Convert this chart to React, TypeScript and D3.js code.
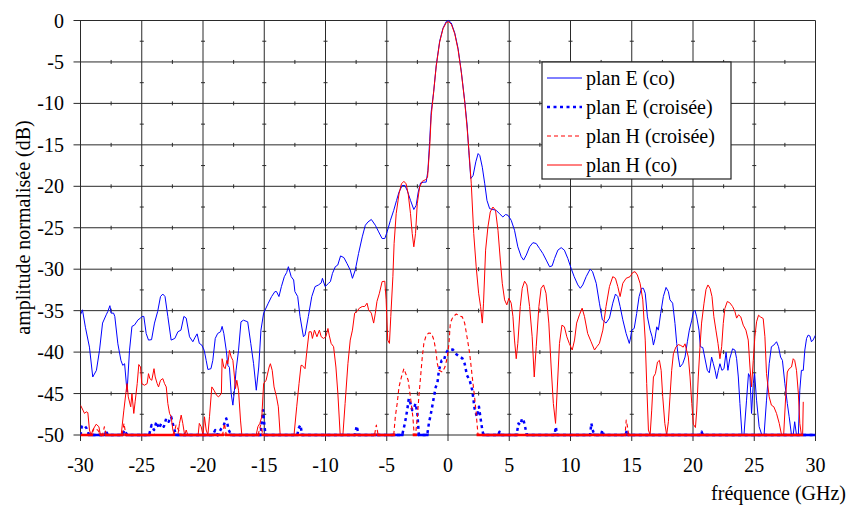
import React, { useEffect, useRef } from "react";
import * as d3 from "d3";

type P = [number, number];

// x: fréquence (GHz), y: amplitude normalisée (dB)
const xTicks = [-30, -25, -20, -15, -10, -5, 0, 5, 10, 15, 20, 25, 30];
const yTicks = [0, -5, -10, -15, -20, -25, -30, -35, -40, -45, -50];
const xMinor = [-27.5, -22.5, -17.5, -12.5, -7.5, -2.5, 2.5, 7.5, 12.5, 17.5, 22.5, 27.5];
const yMinor = [-2.5, -7.5, -12.5, -17.5, -22.5, -27.5, -32.5, -37.5, -42.5, -47.5];

const seriesNames = ["plan E (co)", "plan E (croisée)", "plan H (croisée)", "plan H (co)"];

const planECo: P[] = [
  [-30, -35.5], [-29.84, -34.9], [-29.6, -37], [-29.27, -39.4], [-29.0, -43], [-28.7, -42.2], [-28.45, -39.8],
  [-28.2, -36.5], [-27.9, -35.5], [-27.77, -35.1], [-27.6, -34.4], [-27.5, -35.3], [-27.3, -35.3], [-27.2, -35.7],
  [-26.95, -39], [-26.7, -41], [-26.55, -41.6], [-26.4, -41.4], [-26.2, -44.8], [-26.0, -39.8], [-25.8, -36.9],
  [-25.6, -36.75], [-25.3, -36.1], [-25.1, -35.9], [-24.97, -35.7], [-24.83, -35.7], [-24.64, -37.75], [-24.45, -38.55],
  [-24.2, -38.5], [-23.96, -36.5], [-23.7, -35.1], [-23.47, -33.3], [-23.28, -33], [-23.1, -33.3], [-22.87, -35.7],
  [-22.6, -38.55], [-22.3, -38.35], [-22.05, -37.55], [-21.8, -37.35], [-21.56, -35.7], [-21.37, -35.9], [-21.1, -38.15],
  [-20.83, -38.75], [-20.64, -38.2], [-20.48, -37.8], [-20.3, -38.95], [-20.1, -39.15], [-19.9, -39.8], [-19.74, -41],
  [-19.6, -42.1], [-19.35, -42], [-19.2, -41], [-19.0, -38.35], [-18.8, -37.75], [-18.57, -37.55], [-18.44, -36.9],
  [-18.3, -37.75], [-18.1, -39.8], [-17.97, -41.6], [-17.84, -41.85], [-17.7, -45], [-17.56, -46.4], [-17.43, -44.6],
  [-17.3, -42.2], [-17.1, -39.8], [-16.9, -36.35], [-16.7, -36.15], [-16.35, -36.35], [-16.1, -38.95], [-15.87, -41.4],
  [-15.65, -44.6], [-15.45, -41.8], [-15.27, -37.35], [-15.05, -35.3], [-14.67, -34.1], [-14.4, -33.3], [-14.13, -32.7],
  [-14.0, -32.7], [-13.8, -33.3], [-13.6, -32.1], [-13.36, -30.9], [-13.17, -30.4], [-13.03, -29.7], [-12.8, -30.9],
  [-12.6, -31.3], [-12.5, -32.7], [-12.27, -33.3], [-12.08, -35.7], [-11.8, -38.15], [-11.67, -37.95], [-11.4, -35.7],
  [-11.12, -33.3], [-10.85, -32.1], [-10.57, -31.9], [-10.35, -31.65], [-10.25, -31.1], [-10.03, -32.1], [-9.75, -31.7],
  [-9.6, -31.5], [-9.43, -30.5], [-9.2, -29.7], [-9.0, -29.5], [-8.77, -28.4], [-8.5, -28.6], [-8.25, -29.3],
  [-7.98, -30.1], [-7.8, -31.1], [-7.57, -30.1], [-7.3, -28.1], [-7.0, -26.1], [-6.75, -24.7], [-6.53, -24.3],
  [-6.26, -24.0], [-5.93, -24.7], [-5.66, -25.5], [-5.38, -26.3], [-5.16, -26.3], [-4.97, -25.5], [-4.7, -24.1],
  [-4.43, -22.9], [-4.2, -21.7], [-4.0, -20.7], [-3.74, -19.9], [-3.52, -19.9], [-3.33, -20.5], [-3.06, -21.7],
  [-2.79, -22.8], [-2.6, -22.3], [-2.43, -20.7], [-2.24, -19.6], [-1.97, -19.5], [-1.78, -19.5], [-1.64, -18.1],
  [-1.5, -14.6], [-1.37, -11], [-1.17, -8.6], [-0.96, -5.4], [-0.68, -2.5], [-0.41, -0.93], [-0.14, -0.12],
  [0.05, 0], [0.27, -0.3], [0.55, -1.5], [0.82, -3.35], [1.09, -6.2], [1.37, -9.8], [1.56, -12.6], [1.72, -16.25],
  [1.86, -19.07], [2.05, -18.7], [2.27, -17.05], [2.46, -16.05], [2.6, -16.3], [2.8, -17.7], [3.0, -19.7],
  [3.18, -21.7], [3.4, -22.7], [3.67, -22.8], [3.94, -22.9], [4.2, -23.3], [4.48, -23.7], [4.7, -23.4], [4.9, -23.5],
  [5.16, -24.1], [5.43, -25.3], [5.7, -27.3], [5.98, -28.5], [6.17, -28.9], [6.39, -28.3], [6.66, -27.3],
  [6.93, -26.8], [7.2, -26.9], [7.47, -27.5], [7.74, -28.1], [8.02, -28.9], [8.29, -29.7], [8.5, -29.6],
  [8.7, -28.7], [8.97, -27.7], [9.24, -27.4], [9.5, -27.7], [9.78, -28.7], [10.05, -29.9], [10.3, -30.9],
  [10.6, -31.9], [10.8, -32.3], [11.0, -31.9], [11.28, -30.9], [11.6, -30.0], [11.8, -30.3], [12.1, -31.7],
  [12.36, -34.1], [12.6, -36.1], [12.9, -36.5], [13.18, -35.9], [13.45, -34.1], [13.67, -33.0], [13.86, -33.3],
  [14.05, -34.5], [14.27, -36.1], [14.54, -37.75], [14.8, -38.95], [14.9, -38.3], [15.0, -37.35], [15.2, -37.15],
  [15.4, -35.35], [15.6, -33.3], [15.8, -32.3], [15.95, -32.3], [16.1, -32.9], [16.28, -35.75], [16.5, -37.35],
  [16.66, -38.15], [16.77, -39.15], [16.9, -38.35], [17.04, -36.95], [17.17, -37.35], [17.36, -35.35], [17.58, -33.3],
  [17.8, -32.2], [17.99, -32.7], [18.12, -33.7], [18.34, -34.1], [18.53, -36.55], [18.67, -38.95], [18.8, -40.6],
  [18.94, -41.8], [19.16, -41.4], [19.35, -40.6], [19.54, -38.75], [19.7, -37.35], [19.9, -36.15], [20.03, -35.15],
  [20.16, -34.95], [20.3, -35.75], [20.49, -37.35], [20.6, -39.35], [20.8, -39.45], [21.0, -40.95], [21.17, -42.2],
  [21.33, -42.5], [21.52, -40.6], [21.66, -41.4], [21.8, -42.2], [21.93, -43.2], [22.07, -42.2], [22.2, -41.4],
  [22.36, -42.2], [22.53, -42], [22.7, -40], [22.85, -42.2], [23.0, -40.8], [23.23, -39.6], [23.42, -39.75],
  [23.56, -40.8], [23.7, -43], [23.83, -46.2], [24.0, -50], [24.16, -50], [24.37, -45.8], [24.53, -42.6],
  [24.65, -43], [24.78, -47.4], [24.92, -43.8], [25.03, -42.6], [25.19, -45.8], [25.4, -49], [25.62, -50],
  [25.8, -50], [26.0, -45.8], [26.22, -41.4], [26.4, -39.35], [26.6, -39.15], [26.82, -38.75], [26.98, -39.35],
  [27.15, -40.6], [27.3, -41], [27.5, -43.8], [27.7, -46.2], [27.85, -47.8], [28.04, -50], [28.18, -50],
  [28.3, -48.4], [28.45, -50], [28.6, -50], [28.72, -44.6], [28.85, -42.2], [29.0, -42.2], [29.13, -39.75],
  [29.27, -38.35], [29.4, -37.95], [29.54, -38.05], [29.67, -38.75], [29.8, -38.55], [30.0, -37.95],
];

const planECroisee: P[] = [
  [-30, -50], [-29.9, -49], [-29.7, -48.8], [-29.5, -49.2], [-29.3, -50], [-28.0, -50], [-27.9, -49.4], [-27.8, -50],
  [-26.6, -50], [-26.4, -49.4], [-26.2, -50], [-24.4, -50], [-24.2, -48.8], [-24.0, -49.4], [-23.8, -48.4],
  [-23.6, -49.2], [-23.4, -48.6], [-23.2, -49], [-23.0, -48], [-22.8, -48.4], [-22.6, -47.8], [-22.4, -49],
  [-22.2, -50], [-19.2, -50], [-19.0, -49.4], [-18.8, -50], [-18.5, -49.2], [-18.3, -48.8], [-18.1, -48],
  [-17.9, -49.4], [-17.7, -50], [-15.3, -50], [-15.2, -48.4], [-15.1, -47], [-15.0, -48.6], [-14.9, -50],
  [-12.3, -50], [-12.2, -49.2], [-12.05, -48.8], [-11.9, -50], [-7.6, -50], [-7.45, -48.9], [-7.3, -50],
  [-3.74, -50], [-3.52, -48.6], [-3.33, -47], [-3.2, -45.6], [-3.06, -46.2], [-2.92, -47], [-2.79, -46.8],
  [-2.65, -46.2], [-2.5, -47.4], [-2.38, -50], [-1.7, -50], [-1.56, -48.6], [-1.34, -47], [-1.15, -45.4],
  [-1.0, -44.2], [-0.87, -43.8], [-0.74, -42.2], [-0.52, -41], [-0.33, -41], [-0.19, -40.2], [0, -39.75],
  [0.14, -39.75], [0.4, -39.7], [0.68, -40.25], [0.95, -40.55], [1.17, -40.75], [1.36, -41.4], [1.55, -42.8],
  [1.77, -43.4], [1.98, -44.6], [2.17, -46.8], [2.36, -47.8], [2.53, -46.6], [2.64, -47.8], [2.8, -49.4],
  [2.9, -50], [4.1, -50], [4.2, -49.6], [4.3, -50], [5.6, -50], [5.75, -48.6], [5.9, -48.8], [6.05, -48],
  [6.2, -48.4], [6.35, -49.4], [6.45, -50], [8.7, -50], [8.8, -49], [8.9, -50], [11.6, -50], [11.7, -48.6],
  [11.85, -49.6], [12.0, -50], [12.5, -50], [12.6, -49.4], [12.7, -50], [14.5, -50], [14.6, -49.4], [14.7, -50],
  [20.6, -50], [20.7, -49.6], [20.8, -50], [30, -50],
];

const planHCroisee: P[] = [
  [-30, -50], [-29.1, -50], [-28.9, -49.2], [-28.6, -49.4], [-28.3, -50], [-28.2, -50], [-28.05, -49], [-27.9, -50],
  [-26.6, -50], [-26.45, -48.6], [-26.3, -50], [-22.4, -50], [-22.2, -48.8], [-22.0, -49.4], [-21.8, -50],
  [-18.4, -50], [-18.25, -48.6], [-18.1, -50], [-15.5, -50], [-15.3, -48.8], [-15.1, -50], [-6.0, -50],
  [-5.85, -48.8], [-5.7, -50], [-4.43, -50], [-4.3, -47.8], [-4.15, -46.2], [-4.0, -44.2], [-3.8, -43],
  [-3.6, -42], [-3.4, -42.8], [-3.25, -43.4], [-3.14, -44.6], [-3.0, -46.2], [-2.87, -47.8], [-2.76, -50],
  [-2.65, -50], [-2.5, -47.8], [-2.38, -45.4], [-2.24, -43], [-2.1, -40.6], [-1.97, -38.95], [-1.78, -37.95],
  [-1.56, -37.7], [-1.34, -37.75], [-1.15, -38.55], [-1.0, -39.75], [-0.87, -41.4], [-0.74, -42.2],
  [-0.46, -42.4], [-0.25, -41.8], [-0.05, -40.6], [0.08, -38.95], [0.19, -36.5], [0.4, -35.75], [0.68, -35.4],
  [0.95, -35.65], [1.17, -35.75], [1.36, -36.5], [1.55, -38.15], [1.77, -40.15], [1.98, -43], [2.17, -45.4],
  [2.3, -47.4], [2.45, -50], [14.45, -50], [14.55, -48.2], [14.65, -49], [14.75, -50], [29, -50],
];

const planHCo: P[] = [
  [-30, -46.4], [-29.8, -47], [-29.67, -47.4], [-29.54, -47.2], [-29.4, -47.3], [-29.27, -49.4], [-29.13, -50],
  [-29.0, -49.4], [-28.72, -48.7], [-28.5, -49], [-28.37, -50], [-26.68, -50], [-26.46, -47], [-26.3, -45],
  [-26.2, -43.8], [-26.1, -45.4], [-25.9, -46.6], [-25.8, -45], [-25.65, -47.4], [-25.54, -46], [-25.37, -43.8],
  [-25.24, -41.5], [-25.1, -41.8], [-25.0, -43.8], [-24.78, -44], [-24.56, -43.8], [-24.45, -42.6], [-24.34, -43.2],
  [-24.18, -43.4], [-24.0, -42], [-23.9, -43], [-23.74, -43.8], [-23.63, -44.2], [-23.47, -43.4], [-23.28, -43.2],
  [-23.14, -43.8], [-23.0, -44.2], [-22.87, -46.2], [-22.73, -47.4], [-22.6, -47.8], [-22.46, -49.4], [-22.33, -50],
  [-22.05, -50], [-21.92, -48.6], [-21.78, -47.6], [-21.65, -48.6], [-21.5, -50], [-21.37, -49.4], [-21.24, -50],
  [-20.4, -50], [-20.3, -48.6], [-20.15, -49], [-20.0, -50], [-19.88, -47.8], [-19.74, -49.4], [-19.6, -50],
  [-19.47, -47.8], [-19.28, -44.2], [-19.1, -44.6], [-18.9, -45.2], [-18.73, -45.4], [-18.5, -45], [-18.44, -40.8],
  [-18.3, -41.8], [-18.19, -42], [-18.05, -41], [-17.97, -41.4], [-17.84, -39.8], [-17.7, -40.6], [-17.56, -41],
  [-17.43, -43], [-17.35, -44.4], [-17.24, -43.4], [-17.1, -44.6], [-16.94, -48.2], [-16.83, -50], [-15.66, -50],
  [-15.52, -49], [-15.36, -48.6], [-15.2, -47.8], [-15.05, -43.8], [-14.85, -43.4], [-14.6, -41.8], [-14.5, -41.4],
  [-14.35, -42.2], [-14.2, -44.2], [-14.0, -45.4], [-13.85, -46.6], [-13.7, -50], [-12.57, -50], [-12.35, -46.6],
  [-12.16, -43.8], [-12.0, -41.6], [-11.9, -41.6], [-11.67, -42], [-11.53, -40], [-11.34, -37.55], [-11.17, -37.55],
  [-11.07, -38.35], [-10.9, -37.35], [-10.7, -38.15], [-10.5, -37.35], [-10.35, -38.15], [-10.16, -38.35],
  [-9.97, -38.15], [-9.8, -37.15], [-9.7, -37.95], [-9.54, -38.95], [-9.34, -39.35], [-9.15, -41.8], [-8.99, -45],
  [-8.8, -50], [-8.58, -50], [-8.4, -46.2], [-8.17, -41.4], [-7.98, -38.55], [-7.8, -37.35], [-7.62, -35.3],
  [-7.43, -35.1], [-7.24, -34.7], [-7.0, -34.5], [-6.8, -34.5], [-6.61, -34.1], [-6.48, -34.9], [-6.26, -35.3],
  [-6.07, -36.5], [-5.93, -35.3], [-5.8, -33.9], [-5.6, -32.9], [-5.38, -31.5], [-5.16, -31.45], [-5.05, -33.7],
  [-4.92, -38.55], [-4.78, -38.95], [-4.67, -35.7], [-4.5, -30.9], [-4.4, -26.9], [-4.23, -23.3], [-4.0, -20.9],
  [-3.8, -19.7], [-3.6, -19.4], [-3.42, -19.7], [-3.25, -20.9], [-3.06, -23.3], [-2.92, -25.7], [-2.79, -27.3],
  [-2.65, -25.7], [-2.51, -22.1], [-2.32, -20.1], [-2.1, -19.4], [-1.83, -19.2], [-1.67, -18.9], [-1.5, -15.4],
  [-1.37, -11.5], [-1.17, -8.6], [-0.96, -5.5], [-0.68, -2.6], [-0.41, -1.0], [-0.14, -0.25], [0.05, -0.15],
  [0.27, -0.45], [0.55, -1.6], [0.82, -3.5], [1.09, -6.3], [1.37, -9.9], [1.56, -13.0], [1.71, -15.7],
  [1.9, -19.7], [2.1, -25.7], [2.3, -29.7], [2.5, -32.9], [2.66, -34.5], [2.8, -36.5], [2.9, -34.1], [3.07, -27.7],
  [3.26, -24.9], [3.45, -23.1], [3.67, -22.5], [3.88, -22.9], [4.08, -25.3], [4.27, -28.9], [4.43, -31.7],
  [4.62, -33.7], [4.8, -34.3], [4.97, -33.5], [5.16, -34.1], [5.3, -35.7], [5.43, -38.55], [5.57, -40.8],
  [5.7, -38.95], [5.9, -34.5], [6.06, -32.3], [6.25, -31.45], [6.44, -31.9], [6.66, -34.5], [6.87, -38.15],
  [7.04, -43], [7.2, -39.35], [7.42, -34.5], [7.6, -32.3], [7.8, -31.9], [8.0, -32.9], [8.23, -36.5],
  [8.42, -41.8], [8.6, -46.2], [8.78, -48.6], [8.9, -45], [9.1, -38.95], [9.3, -36.75], [9.5, -36.95],
  [9.7, -38.15], [9.9, -38.95], [10.14, -39.75], [10.33, -38.55], [10.5, -36.5], [10.73, -35.5], [10.95, -34.7],
  [11.14, -35.7], [11.4, -37.75], [11.68, -38.75], [11.96, -39.75], [12.15, -39.35], [12.36, -38.95],
  [12.64, -37.35], [12.9, -34.5], [13.18, -32.1], [13.45, -30.9], [13.67, -31.1], [13.86, -32.1], [14.05, -33.3],
  [14.27, -31.7], [14.54, -31.1], [14.86, -30.9], [15.08, -30.4], [15.27, -30.3], [15.46, -30.7], [15.68, -31.7],
  [15.9, -33.7], [16.1, -38.55], [16.22, -43.8], [16.36, -49.4], [16.5, -50], [16.63, -47], [16.77, -43],
  [16.93, -42.6], [17.1, -41.2], [17.26, -41], [17.4, -42.2], [17.53, -45.4], [17.7, -48.6], [17.85, -50],
  [17.99, -48.4], [18.12, -45.4], [18.26, -42.2], [18.4, -40.2], [18.6, -39.4], [18.8, -39.1], [19.0, -39.2],
  [19.2, -39.4], [19.35, -39], [19.48, -39.8], [19.62, -40.6], [19.76, -43], [19.9, -46.2], [20.03, -48.7],
  [20.2, -49.1], [20.3, -47.1], [20.43, -43], [20.57, -39.4], [20.7, -36.5], [20.9, -34.1], [21.06, -32.45],
  [21.22, -31.9], [21.39, -32.3], [21.55, -33.3], [21.7, -35.7], [21.87, -37.35], [22.04, -38.95], [22.2, -40.8],
  [22.34, -39.35], [22.47, -36.55], [22.6, -34.75], [22.8, -33.9], [23.0, -34.05], [23.23, -34.5], [23.42, -35.1],
  [23.56, -35.9], [23.72, -35.5], [23.9, -35.75], [24.1, -36.75], [24.32, -37.35], [24.51, -38.55], [24.65, -41.8],
  [24.78, -44.2], [24.92, -41], [25.05, -38.15], [25.19, -36.35], [25.35, -35.55], [25.5, -35.75], [25.73, -35.95],
  [25.87, -38.15], [26.0, -42.6], [26.22, -45.4], [26.4, -46.4], [26.6, -46.6], [26.82, -47.4], [27.04, -48.6],
  [27.23, -50], [27.4, -50], [27.58, -45], [27.7, -42.4], [27.85, -42], [28.04, -41.8], [28.18, -40.8],
  [28.3, -41], [28.45, -42.2], [28.6, -45], [28.72, -48.6], [28.85, -50], [28.95, -50], [29.0, -46],
];

const W = 849;
const H = 507;
const FONT = `"Liberation Serif", Tinos, "Times New Roman", FreeSerif`;

export default function App() {
  const svgRef = useRef<SVGSVGElement>(null);

  useEffect(() => {
    if (!svgRef.current) return;
    d3.select(svgRef.current)
      .selectAll<SVGTextElement, unknown>("text")
      .each(function () {
        this.style.setProperty("font-family", FONT, "important");
        this.style.setProperty("font-size", "20px", "important");
      });
  }, []);

  const x = d3.scaleLinear().domain([-30, 30]).range([80.5, 815.5]);
  const y = d3.scaleLinear().domain([-50, 0]).range([435, 20.5]);
  const line = d3
    .line<P>()
    .x((d) => x(d[0]))
    .y((d) => y(d[1]));

  const x0 = x(-30), x1 = x(30), y0 = y(0), y1 = y(-50);
  const gridColor = "#2a2a2a";

  const styles = [
    { color: "#0000ff", width: 1, dash: undefined as string | undefined, data: planECo },
    { color: "#0000ff", width: 2.5, dash: "3,3.5", data: planECroisee },
    { color: "#ff0000", width: 1.1, dash: "4,3", data: planHCroisee },
    { color: "#ff0000", width: 1, dash: undefined as string | undefined, data: planHCo },
  ];

  const legendX = 542, legendY = 62, legendW = 189, legendH = 117;
  const legendRows = [78, 107, 136, 165];

  return (
    <svg
      ref={svgRef}
      width={W}
      height={H}
      fontFamily={FONT}
      fontSize={20}
      style={{ position: "absolute", left: 0, top: 0, background: "#fff" }}
    >
      <defs>
        <clipPath id="plotClip">
          <rect x={x0} y={y0 - 2} width={x1 - x0} height={y1 - y0 + 4} />
        </clipPath>
        <clipPath id="floorClip">
          <rect x={x0} y={y1 - 1.5} width={x1 - x0} height={3} />
        </clipPath>
      </defs>

      {yTicks.map((t) => (
        <line key={"hy" + t} x1={x0 - 7} x2={x1} y1={y(t)} y2={y(t)} stroke={gridColor} strokeWidth={1} />
      ))}
      {xTicks.map((t) => (
        <line key={"vx" + t} x1={x(t)} x2={x(t)} y1={y0} y2={y1 + 6} stroke={gridColor} strokeWidth={1} />
      ))}
      {yTicks
        .filter((t) => t !== 0 && t !== -50)
        .map((t) =>
          xMinor.map((m) => (
            <line key={`mx${t}_${m}`} x1={x(m)} x2={x(m)} y1={y(t) - 2} y2={y(t) + 2} stroke={gridColor} strokeWidth={1} />
          ))
        )}
      {xTicks
        .filter((t) => t !== -30 && t !== 30)
        .map((t) =>
          yMinor.map((m) => (
            <line key={`my${t}_${m}`} x1={x(t) - 2} x2={x(t) + 2} y1={y(m)} y2={y(m)} stroke={gridColor} strokeWidth={1} />
          ))
        )}

      <g clipPath="url(#plotClip)" fill="none" strokeLinejoin="round">
        {styles.map((s, i) => (
          <path
            key={"s" + i}
            d={line(s.data) || ""}
            stroke={s.color}
            strokeWidth={s.width}
            strokeDasharray={s.dash}
          />
        ))}
      </g>
      <g clipPath="url(#floorClip)" fill="none">
        <path d={line(planECroisee) || ""} stroke="#0000ff" strokeWidth={3} />
        <path d={line(planHCroisee) || ""} stroke="#ff0000" strokeWidth={3} />
      </g>

      {yTicks.map((t) => (
        <text key={"ly" + t} x={64} y={y(t)} dy="0.35em" textAnchor="end" fontFamily={FONT} fontSize={20} fill="#000">
          {t}
        </text>
      ))}
      {xTicks.map((t) => (
        <text key={"lx" + t} x={x(t)} y={472} textAnchor="middle" fontFamily={FONT} fontSize={20} fill="#000">
          {t}
        </text>
      ))}

      <text x={846} y={500} textAnchor="end" fontFamily={FONT} fontSize={20} fill="#000">
        fréquence (GHz)
      </text>
      <text
        transform="translate(30, 227.5) rotate(-90)"
        textAnchor="middle"
        fontFamily={FONT}
        fontSize={20}
        fill="#000"
      >
        amplitude normalisée (dB)
      </text>

      <rect x={legendX} y={legendY} width={legendW} height={legendH} fill="#fff" stroke="#222" strokeWidth={1.2} />
      {seriesNames.map((name, i) => (
        <g key={"lg" + i}>
          <line
            x1={547}
            x2={582}
            y1={legendRows[i]}
            y2={legendRows[i]}
            stroke={styles[i].color}
            strokeWidth={styles[i].width}
            strokeDasharray={styles[i].dash}
          />
          <text x={586} y={legendRows[i]} dy="0.35em" fontFamily={FONT} fontSize={20} fill="#000">
            {name}
          </text>
        </g>
      ))}
    </svg>
  );
}
